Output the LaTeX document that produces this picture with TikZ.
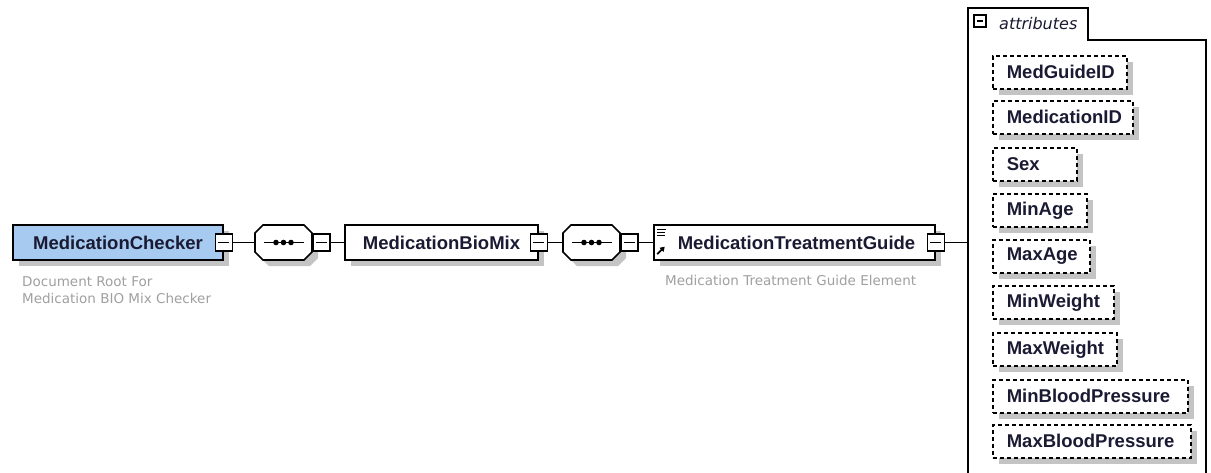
\documentclass[tikz,border=0pt]{standalone}
\usepackage{fontspec}
\setmainfont{Liberation Sans}
\newfontfamily\descfont{DejaVu Sans}
\usetikzlibrary{shadows,arrows.meta}
\definecolor{labelc}{HTML}{1A1A33}
\definecolor{rootfill}{HTML}{A6CAF0}
\definecolor{shadowc}{HTML}{C4C4C4}
\definecolor{descc}{HTML}{A0A0A0}
\tikzset{
  boxshadow/.style={drop shadow={shadow xshift=6pt, shadow yshift=-6pt, fill=shadowc, opacity=1}},
  labelfont/.style={font=\bfseries\fontsize{18.5}{22}\selectfont, text=labelc},
  elem/.style={draw=black, line width=1.6pt, fill=white, minimum height=35pt,
    inner sep=0pt, labelfont, boxshadow},
  seqbox/.style={minimum width=57pt, minimum height=35pt, inner sep=0pt},
  octline/.style={draw=black, line width=1.6pt, fill=white, line join=miter, boxshadow},
  minus/.style={draw=black, fill=white, line width=1.5pt, minimum size=17pt,
    inner sep=0pt,
    path picture={\draw[line width=1.5pt]
      ([xshift=3pt]path picture bounding box.west) --
      ([xshift=-3pt]path picture bounding box.east);}},
  conn/.style={draw=black, line width=1.6pt},
  attr/.style={draw=black, line width=1.6pt, dash pattern=on 4pt off 3pt,
    fill=white, minimum height=33pt, inner xsep=14pt, inner ysep=0pt,
    anchor=north west, align=left, labelfont, boxshadow},
  desc/.style={font=\descfont\fontsize{13.5}{17}\selectfont, text=descc,
    inner sep=0pt, anchor=base west},
}
\begin{document}
\begin{tikzpicture}[x=1pt, y=-1pt]
\useasboundingbox (0,0) rectangle (1211,472);
\fill[white] (0,0) rectangle (1211,472);

% element chain
\node[elem, fill=rootfill, minimum width=210pt] (root) at (118,242.5) {MedicationChecker};
\node[seqbox] (seqA) at (283.5,242.5) {};
\node[elem, minimum width=193pt] (bio) at (441.5,242.5) {MedicationBioMix};
\node[seqbox] (seqB) at (591.5,242.5) {};
\node[elem, minimum width=281pt] (mtg) at (794.5,242.5) {\hspace*{6pt}MedicationTreatmentGuide\hspace*{2pt}};

% sequence compositor symbols
\foreach \s in {seqA,seqB}{
  \path[octline] ([shift={(-28.5,-9.5)}]\s.center) -- ([shift={(-20.5,-17.5)}]\s.center)
    -- ([shift={(20.5,-17.5)}]\s.center) -- ([shift={(28.5,-9.5)}]\s.center)
    -- ([shift={(28.5,9.5)}]\s.center) -- ([shift={(20.5,17.5)}]\s.center)
    -- ([shift={(-20.5,17.5)}]\s.center) -- ([shift={(-28.5,9.5)}]\s.center) -- cycle;
  \draw[line width=1.6pt] ([xshift=-20pt]\s.center) -- ([xshift=20pt]\s.center);
  \foreach \dx in {-7.5,0,7.5}
    \fill ([xshift=\dx pt]\s.center) circle (2.8pt);
}

% collapse buttons
\node[minus] (rootm) at (root.east) {};
\node[minus, anchor=west] (seqAm) at (seqA.east) {};
\node[minus] (biom) at (bio.east) {};
\node[minus, anchor=west] (seqBm) at (seqB.east) {};
\node[minus] (mtgm) at (mtg.east) {};

% documentation and reference icons
\foreach \dy/\len in {5/9,8.3/8,11.7/8}
  \draw[line width=1.1pt] ([shift={(4,\dy)}]mtg.north west) -- ++(\len,0);
\draw[line width=1.8pt, -{Triangle[length=4.5pt,width=5.5pt]}]
  ([shift={(4,30)}]mtg.north west) -- ([shift={(11.5,22.5)}]mtg.north west);

% descriptions
\node[desc] (rootd1) at (22,286) {Document Root For};
\node[desc] (rootd2) at (22,303) {Medication BIO Mix Checker};
\node[desc] (mtgd) at (665,285) {Medication Treatment Guide Element};

% attribute group frame
\coordinate (attrleft) at (968,40);
\draw[line width=1.6pt] (968,480) -- (968,8) -- (1088,8) -- (1088,40) -- (1206,40) -- (1206,480);
\node[minus, minimum size=12pt, line width=1.2pt] (attrm) at (980,21) {};
\node[anchor=base west, inner sep=0pt, text=labelc,
  font=\descfont\itshape\fontsize{16}{18}\selectfont] (attrlbl) at (999,29) {attributes};

% connectors
\draw[conn] (rootm.east) -- (seqA.west);
\draw[conn] (seqAm.east) -- (bio.west);
\draw[conn] (biom.east) -- (seqB.west);
\draw[conn] (seqBm.east) -- (mtg.west);
\draw[conn] (mtgm.east) -- (mtgm.east -| attrleft);

% attributes
\node[attr, text width=106pt] (a1) at (992,55) {MedGuideID};
\node[attr, text width=112pt] (a2) at (992,100) {MedicationID};
\node[attr, text width=56pt] (a3) at (992,147) {Sex};
\node[attr, text width=66pt] (a4) at (992,193) {MinAge};
\node[attr, text width=69pt] (a5) at (992,239) {MaxAge};
\node[attr, text width=93pt] (a6) at (992,285) {MinWeight};
\node[attr, text width=96pt] (a7) at (992,332) {MaxWeight};
\node[attr, text width=167pt] (a8) at (992,379) {MinBloodPressure};
\node[attr, text width=170pt] (a9) at (992,424) {MaxBloodPressure};
\end{tikzpicture}
\end{document}
